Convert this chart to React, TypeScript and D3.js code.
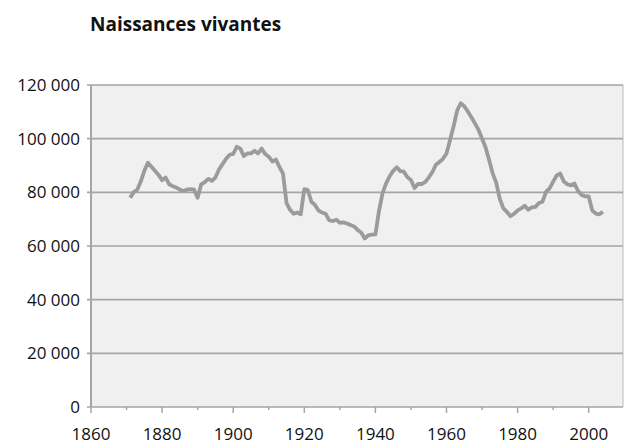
import React from 'react';
import * as d3 from 'd3';

// live births per year (1871-2004)
const startYear = 1871;
const births = [
  78000, 80000, 81000, 84000, 88000, 91000, 89500, 88000, 86500, 84500,
  85500, 83000, 82300, 81800, 81000, 80500, 81000, 81200, 81000, 78000,
  83000, 83800, 85000, 84300, 85500, 88500, 90500, 92500, 94000, 94300,
  97000, 96300, 93500, 94500, 94500, 95500, 94500, 96300, 94300, 93300,
  91500, 92200, 89500, 87000, 76000, 73500, 72000, 72500, 71800, 81200,
  80800, 76500, 75300, 73200, 72500, 72000, 69600, 69300, 69800, 68600,
  68800, 68400, 67800, 67300, 66000, 65000, 62800, 64000, 64200, 64300,
  73000, 79600, 83300, 86000, 88000, 89300, 87900, 87700, 85600, 84600,
  81600, 83100, 83100, 83800, 85500, 87500, 90300, 91300, 92500, 94500,
  99500, 104600, 110500, 113200, 112100, 110100, 108000, 105700, 103300, 100000,
  96700, 92000, 87000, 83500, 77500, 74000, 72700, 71100, 72000, 73300,
  74000, 75000, 73500, 74400, 74600, 76000, 76500, 80200, 81500, 84000,
  86300, 87000, 84000, 83000, 82600, 83300, 80500, 79000, 78500, 78500,
  73200, 72100, 71800, 72800,
];
const yTicks = [0, 20000, 40000, 60000, 80000, 100000, 120000];
const xMajor = [1860, 1880, 1900, 1920, 1940, 1960, 1980, 2000];
const xMinor = [1870, 1890, 1910, 1930, 1950, 1970, 1990];
const title = 'Naissances vivantes';

const font = '"Open Sans", sans-serif';
const fmt = (v: number) => d3.format(',')(v).replace(/,/g, ' ');

export default function App() {
  const W = 624, H = 445;
  const left = 91, right = 623, top = 85, bottom = 407;
  const x = d3.scaleLinear().domain([1860, 2000]).range([left, 588.7]);
  const y = d3.scaleLinear().domain([0, 120000]).range([bottom, top]);
  const data = births.map((v, i) => ({ year: startYear + i, v }));
  const line = d3.line<{ year: number; v: number }>()
    .x(d => x(d.year))
    .y(d => y(d.v));

  return (
    <svg width={W} height={H} style={{ position: 'absolute', left: 0, top: 0 }}>
      <rect x={0} y={0} width={W} height={H} fill='#ffffff' />
      <text x={90} y={31} fontFamily={font} fontWeight='bold' fontSize={19} fill='#111'>{title}</text>
      <rect x={left} y={top} width={right - left} height={bottom - top} fill='#eff0ef' />
      <line x1={right} x2={right} y1={top} y2={bottom} stroke='#c4c4c4' strokeWidth={1.2} />
      {yTicks.map(t => (
        <g key={`y-${t}`}>
          <line x1={left - 4} x2={right} y1={y(t)} y2={y(t)} stroke='#a5a5a5' strokeWidth={1.6} />
          <text x={80} y={y(t)} dy='0.36em' textAnchor='end' fontFamily={font} fontSize={17} fill='#111'>{fmt(t)}</text>
        </g>
      ))}
      <line x1={left} x2={left} y1={top} y2={bottom} stroke='#a5a5a5' strokeWidth={2} />
      {xMajor.map(t => (
        <g key={`x-${t}`}>
          <line x1={x(t)} x2={x(t)} y1={bottom} y2={bottom + 6} stroke='#a5a5a5' strokeWidth={1.5} />
          <text x={x(t)} y={440} textAnchor='middle' fontFamily={font} fontSize={17} fill='#111'>{t}</text>
        </g>
      ))}
      {xMinor.map(t => (
        <line key={`xm-${t}`} x1={x(t)} x2={x(t)} y1={bottom} y2={bottom + 3} stroke='#a5a5a5' strokeWidth={1.5} />
      ))}
      <path d={line(data) || ''} fill='none' stroke='#9b9b9b' strokeWidth={3.8} strokeLinejoin='round' />
    </svg>
  );
}
